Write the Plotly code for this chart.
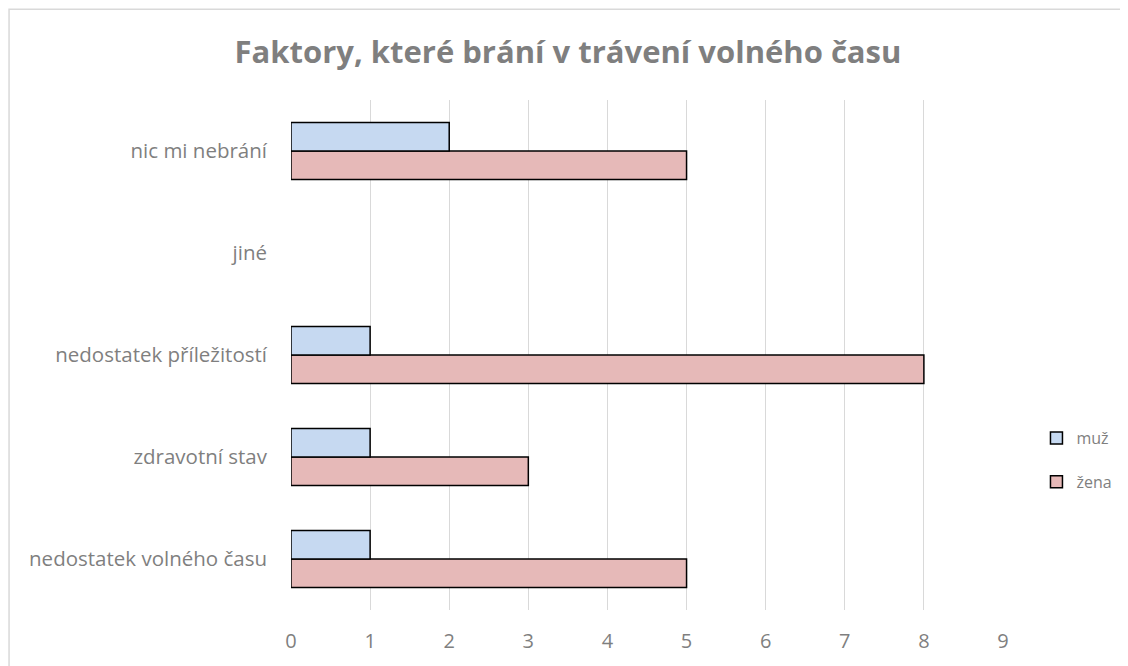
import plotly.graph_objects as go

categories = ["nedostatek volného času", "zdravotní stav", "nedostatek příležitostí", "jiné", "nic mi nebrání"]
muz = [1, 1, 1, 0, 2]
zena = [5, 3, 8, 0, 5]
x_ticks = [0, 1, 2, 3, 4, 5, 6, 7, 8, 9]

FONT = "Open Sans"
GRAY = "#7f7f7f"


def outline(vals):
    return [1.5 if v > 0 else 0 for v in vals]


fig = go.Figure()
fig.add_trace(go.Bar(y=categories, x=zena, name="žena", orientation="h",
                     marker=dict(color="#e6b9b8", line=dict(color="black", width=outline(zena))),
                     legendrank=2, legendgroup="z"))
fig.add_trace(go.Bar(y=categories, x=muz, name="muž", orientation="h",
                     marker=dict(color="#c6d9f1", line=dict(color="black", width=outline(muz))),
                     legendrank=1, legendgroup="m"))

fig.update_layout(
    width=1120, height=658,
    margin=dict(l=283, r=125, t=92, b=56, autoexpand=False),
    paper_bgcolor="white", plot_bgcolor="white",
    barmode="group", bargap=0.44, bargroupgap=0,
    title=dict(text="<b>Faktory, které brání v trávení volného času</b>",
               x=0.5, xanchor="center", y=0.933, yanchor="middle",
               font=dict(family=FONT, size=31, color=GRAY)),
    font=dict(family=FONT, size=18, color=GRAY),
    xaxis=dict(range=[0, 9], tickvals=x_ticks, showgrid=True, gridcolor="#d9d9d9",
               gridwidth=1, zeroline=False, showline=False, ticks="",
               ticklabelstandoff=17, tickfont=dict(family=FONT, size=20, color=GRAY)),
    yaxis=dict(showgrid=False, zeroline=False, showline=False, ticks="",
               ticklabelstandoff=23, tickfont=dict(family=FONT, size=20.5, color=GRAY)),
    legend=dict(x=1.047, xanchor="left", y=0.294, yanchor="middle",
                font=dict(family=FONT, size=16, color=GRAY), itemwidth=30,
                tracegroupgap=20, bgcolor="rgba(0,0,0,0)"),
    shapes=[dict(type="rect", xref="paper", yref="paper",
                 x0=-0.396, x1=1.4, y0=-0.3, y1=1.178,
                 line=dict(color="#d9d9d9", width=1.5), fillcolor="rgba(0,0,0,0)",
                 layer="below")],
)

fig.write_html("out.html")
